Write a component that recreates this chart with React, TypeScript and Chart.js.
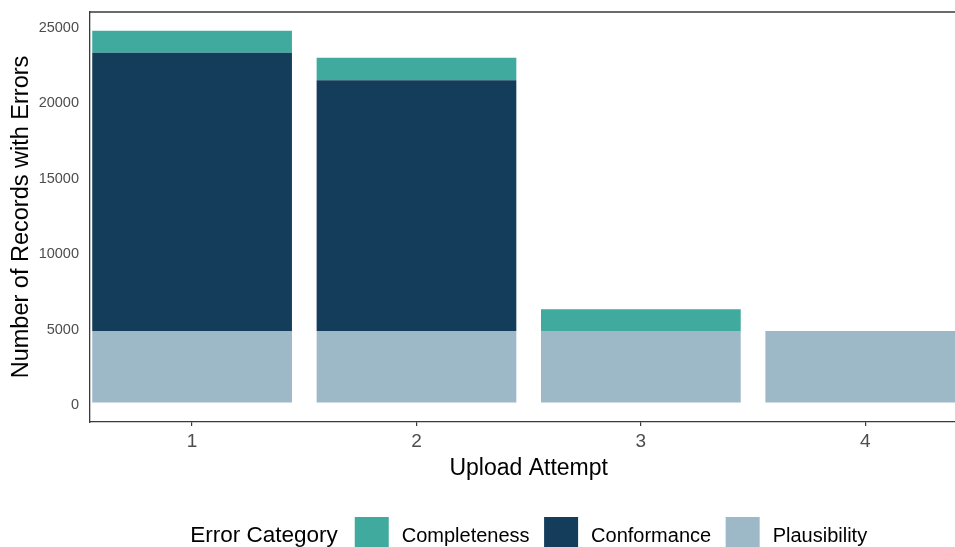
import React, { useEffect, useRef } from "react";
import { Chart, registerables } from "chart.js";

Chart.register(...registerables);

// ---- data ----
const attempts = [1, 2, 3, 4];
const plausibility = [4730, 4730, 4730, 4730];
const conformance = [18470, 16650, 0, 0];
const completeness = [1460, 1480, 1450, 0];
const yTicks = [0, 5000, 10000, 15000, 20000, 25000];
const legendOrder = ["Completeness", "Conformance", "Plausibility"];
const xTitle = "Upload Attempt";
const yTitle = "Number of Records with Errors";
const legendTitle = "Error Category";

// ---- styles ----
const FONT = "'Liberation Sans', Arial, Helvetica, sans-serif";
const COLORS: Record<string, string> = {
  Completeness: "#40AA9F",
  Conformance: "#133D5B",
  Plausibility: "#9DB8C7",
};
const AXIS_COLOR = "#3a3a3a";
const TICK_TEXT = "#4d4d4d";

const decorPlugin = {
  id: "decor",
  afterDraw(chart: any) {
    const { ctx, chartArea, scales } = chart;
    const xs = scales.x;
    const center = xs.getPixelForValue((attempts[0] + attempts[attempts.length - 1]) / 2);
    ctx.save();
    // top panel border
    ctx.strokeStyle = AXIS_COLOR;
    ctx.lineWidth = 1.3;
    ctx.beginPath();
    ctx.moveTo(chartArea.left, chartArea.top);
    ctx.lineTo(chartArea.right + 20, chartArea.top);
    ctx.stroke();

    // x title
    ctx.fillStyle = "#000";
    ctx.font = `23px ${FONT}`;
    ctx.textAlign = "center";
    ctx.textBaseline = "middle";
    ctx.fillText(xTitle, center, 469);

    // legend
    const baseline = 542;
    const swTop = 517;
    const sw = 34;
    ctx.textBaseline = "alphabetic";
    ctx.textAlign = "left";
    ctx.font = `22.5px ${FONT}`;
    const tW = ctx.measureText(legendTitle).width;
    ctx.font = `20px ${FONT}`;
    const lw = legendOrder.map((n) => ctx.measureText(n).width);
    const gapTitle = 17;
    const gapSwText = 13;
    const gapItem = 14.5;
    let total = tW + gapTitle;
    lw.forEach((w, i) => {
      total += sw + gapSwText + w + (i < lw.length - 1 ? gapItem : 0);
    });
    let x = center - total / 2;
    ctx.font = `22.5px ${FONT}`;
    ctx.fillStyle = "#000";
    ctx.fillText(legendTitle, x, baseline);
    x += tW + gapTitle;
    ctx.font = `20px ${FONT}`;
    legendOrder.forEach((n, i) => {
      ctx.fillStyle = COLORS[n];
      ctx.fillRect(x, swTop, sw, sw);
      x += sw + gapSwText;
      ctx.fillStyle = "#000";
      ctx.fillText(n, x, baseline);
      x += lw[i] + gapItem;
    });
    ctx.restore();
  },
};

export default function App() {
  const ref = useRef<HTMLCanvasElement | null>(null);

  useEffect(() => {
    if (!ref.current) return;
    Chart.defaults.font.family = FONT;
    const toPts = (arr: number[]) => attempts.map((a, i) => ({ x: a, y: arr[i] }));
    const chart = new Chart(ref.current, {
      type: "bar",
      data: {
        datasets: [
          { label: "Plausibility", data: toPts(plausibility), backgroundColor: COLORS.Plausibility },
          { label: "Conformance", data: toPts(conformance), backgroundColor: COLORS.Conformance },
          { label: "Completeness", data: toPts(completeness), backgroundColor: COLORS.Completeness },
        ] as any,
      },
      options: {
        animation: false,
        responsive: false,
        maintainAspectRatio: false,
        layout: { padding: { top: 12, left: 0, right: 0, bottom: 0 } },
        datasets: { bar: { barPercentage: 0.89, categoryPercentage: 1, borderWidth: 0 } } as any,
        plugins: { legend: { display: false }, tooltip: { enabled: false } },
        scales: {
          x: {
            type: "linear",
            stacked: true,
            offset: false,
            min: 0.545,
            max: 4.4,
            afterBuildTicks: (s: any) => {
              s.ticks = attempts.map((v) => ({ value: v }));
            },
            afterFit: (s: any) => {
              s.height = 125;
              s.paddingLeft = 0;
              s.paddingRight = 0;
            },
            grid: { display: true, offset: false, drawOnChartArea: false, drawTicks: true, tickLength: 4, color: AXIS_COLOR, lineWidth: 1.2 },
            border: { display: true, color: AXIS_COLOR, width: 1.3 },
            ticks: {
              color: TICK_TEXT,
              font: { size: 19, lineHeight: 1 },
              padding: 6,
              maxRotation: 0,
              autoSkip: false,
              callback: (v: any) => String(v),
            },
          },
          y: {
            type: "linear",
            stacked: true,
            min: -1300,
            max: 25900,
            afterBuildTicks: (s: any) => {
              s.ticks = yTicks.map((v) => ({ value: v }));
            },
            afterFit: (s: any) => {
              s.width = 90;
              s.paddingTop = 0;
              s.paddingBottom = 0;
            },
            grid: { display: false, drawTicks: false },
            border: { display: true, color: AXIS_COLOR, width: 1.3 },
            ticks: {
              color: TICK_TEXT,
              font: { size: 14.5 },
              padding: 11,
              labelOffset: 2.5,
              callback: (v: any) => String(v),
            },
            title: {
              display: true,
              text: yTitle,
              color: "#000",
              font: { size: 23.5, lineHeight: 1 },
              padding: { top: 10, bottom: 0 },
            },
          },
        },
      } as any,
      plugins: [decorPlugin],
    });
    return () => chart.destroy();
  }, []);

  return (
    <div style={{ position: "fixed", left: 0, top: 0, width: 955, height: 547, background: "#fff", overflow: "hidden" }}>
      <canvas ref={ref} width={955} height={547} style={{ width: 955, height: 547, display: "block" }} />
    </div>
  );
}
